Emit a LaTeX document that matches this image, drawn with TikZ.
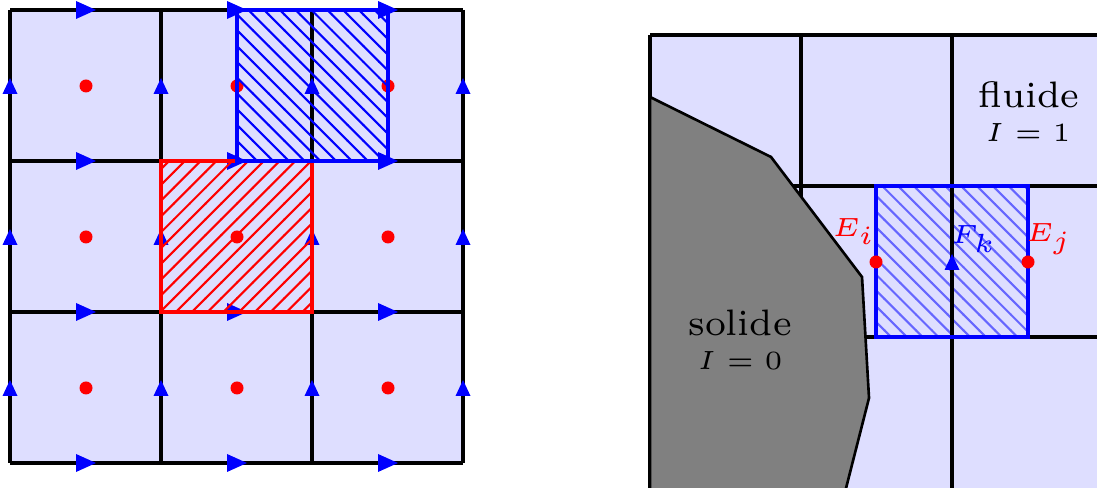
\documentclass[tikz,border=0pt]{standalone}
\usetikzlibrary{patterns}
\tikzset{
  gridline/.style={line width=0.6pt, draw=black},
  cellbg/.style={fill=blue!13},
  harrow/.style={fill=blue},
  varrow/.style={fill=blue},
  reddot/.style={fill=red},
  frame/.style={line width=0.85pt},
  lbl/.style={inner sep=0pt, anchor=base}
}
\begin{document}
\begin{tikzpicture}[x=0.19pt,y=-0.19pt]
\useasboundingbox (0,0) rectangle (1097,488);
\clip (0,0) rectangle (1097,488);

% ---------------- left panel ----------------
\fill[cellbg] (10,10) rectangle (463,463);
\foreach \v in {10,161,312,463} {
  \draw[gridline] (\v,10) -- (\v,463);
  \draw[gridline] (10,\v) -- (463,\v);
}
\foreach \x in {86,237,388} {
  \foreach \y in {10,161,312,463} {
    \fill[harrow] (\x+10,\y) -- (\x-10,\y-9) -- (\x-10,\y+9) -- cycle;
  }
}
\foreach \x in {10,161,312,463} {
  \foreach \y in {86,237,388} {
    \fill[varrow] (\x,\y-8) -- (\x-7.5,\y+8) -- (\x+7.5,\y+8) -- cycle;
  }
}
\foreach \x in {86,237,388} {
  \foreach \y in {86,237,388} {
    \fill[reddot] (\x,\y) circle[radius=6.5];
  }
}
\pattern[pattern=north east lines, pattern color=red] (161,161) rectangle (312,312);
\draw[frame, red] (161,161) rectangle (312,312);
\pattern[pattern=north west lines, pattern color=blue] (237,10) rectangle (388,161);
\draw[frame, blue] (237,10) rectangle (388,161);

% ---------------- right panel ----------------
\fill[cellbg] (650,35) rectangle (1300,600);
\pattern[pattern=north west lines, pattern color=blue!60] (876,186) rectangle (1028,337);
\foreach \v in {650,801,952,1103} {
  \draw[gridline] (\v,35) -- (\v,600);
}
\foreach \h in {35,186,337} {
  \draw[gridline] (650,\h) -- (1300,\h);
}
\filldraw[fill=gray, draw=black, line width=0.5pt]
  (650,97) -- (771,157) -- (862,277) -- (869,398) -- (843,500) -- (650,500) -- cycle;

\draw[frame, blue] (876,186) rectangle (1028,337);
\fill[varrow] (952,254) -- (944.5,270) -- (959.5,270) -- cycle;
\fill[reddot] (876,262) circle[radius=6.5];
\fill[reddot] (1028,262) circle[radius=6.5];

\node[lbl, font=\tiny, text=red] (ei) at (854,236.5) {$E_i$};
\node[lbl, font=\tiny, text=blue] (fk) at (974,243.5) {$F_k$};
\node[lbl, font=\tiny, text=red] (ej) at (1049,241.5) {$E_j$};

\node[lbl, font=\scriptsize] (solide) at (740,336) {solide};
\node[lbl, font=\tiny] (isolide) at (740,370) {$I=0$};
\node[lbl, font=\scriptsize] (fluide) at (1029,108) {fluide};
\node[lbl, font=\tiny] (ifluide) at (1028,142) {$I=1$};
\end{tikzpicture}
\end{document}
